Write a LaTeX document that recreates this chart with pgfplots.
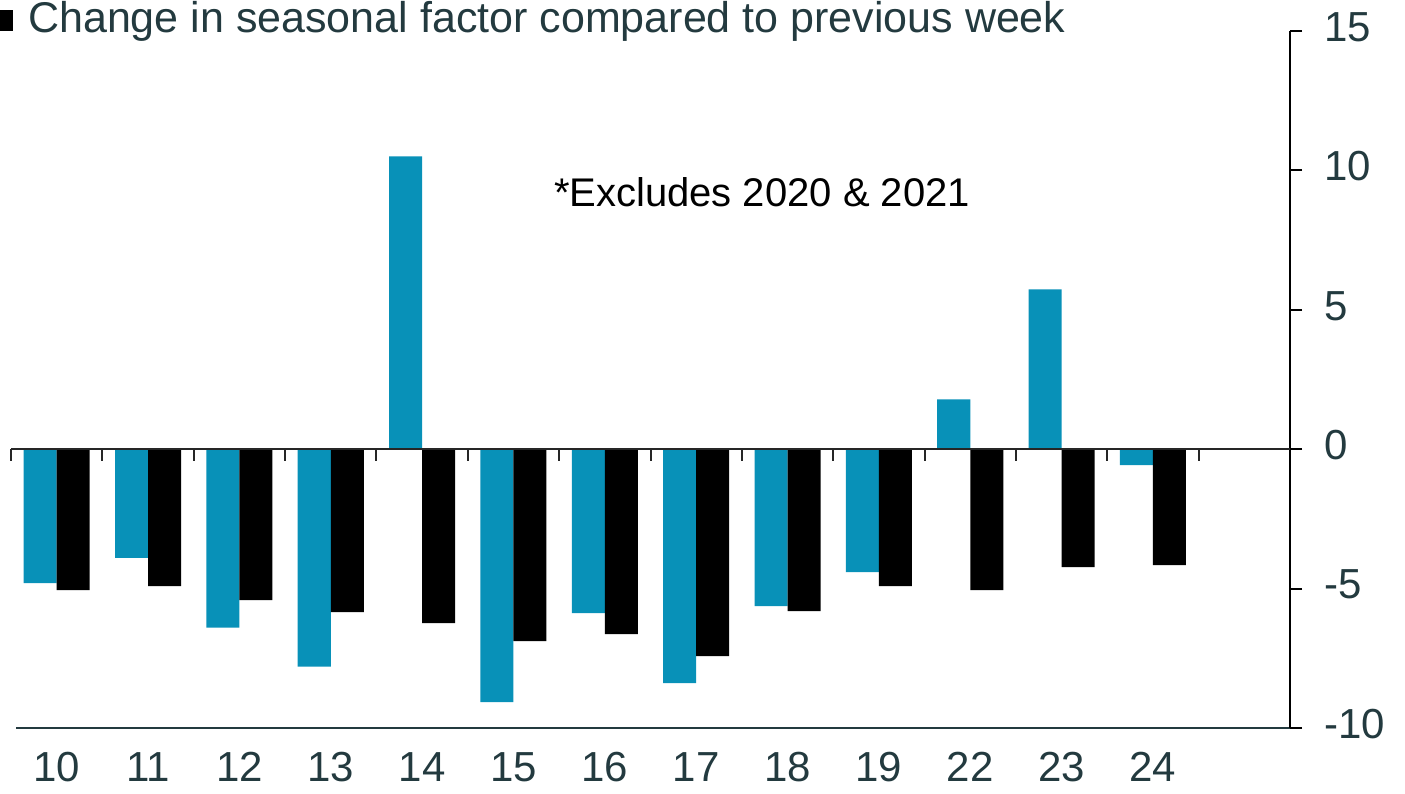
\documentclass[border=0pt]{standalone}
\usepackage{pgfplots}
\pgfplotsset{compat=1.18}
\usepackage{fontspec}
\setmainfont{Liberation Sans}
\definecolor{bluebar}{HTML}{0891B8}
\definecolor{txt}{HTML}{233A3F}
\begin{document}
\begin{tikzpicture}[x=1pt,y=1pt]
\useasboundingbox (0pt,0pt) rectangle (1405pt,-793pt);
\fill[black] (0pt,-10pt) rectangle (13pt,-31pt);
\node[anchor=base west, inner sep=0, text=txt, font=\fontsize{43}{52}\selectfont] at (28pt,-32pt) {Change in seasonal factor compared to previous week};
\node[anchor=center, inner sep=0, text=black, font=\fontsize{40}{48}\selectfont] at (762pt,-192pt) {*Excludes 2020 \& 2021};
\begin{axis}[
 at={(11pt,-728pt)}, anchor=south west,
 scale only axis, width=1279pt, height=697pt,
 xmin=-0.5, xmax=13.5, ymin=-10, ymax=15,
 ybar=0pt, bar width=33pt,
 clip=false,
 axis x line*=bottom, axis y line*=right,
 axis line style={-},
 x axis line style={draw=txt, line width=2pt, shorten <=5pt},
 y axis line style={draw=black, line width=2pt},
 xtick={0,...,12}, xticklabels={10,11,12,13,14,15,16,17,18,19,22,23,24},
 x tick style={draw=none},
 ytick={-10,-5,0,5,10,15}, yticklabels={-10,-5,0,5,10,15},
 y tick style={draw=black, line width=2pt},
 tick align=outside, major tick length=12pt,
 ticklabel style={font=\fontsize{42}{50}\selectfont, text=txt},
 yticklabel style={anchor=west, inner sep=0pt, xshift=22pt, yshift=4pt},
 xticklabel style={anchor=north, inner sep=0pt, yshift=-12pt},
]
\addplot[fill=bluebar, draw=none] coordinates {(0,-4.8) (1,-3.9) (2,-6.4) (3,-7.8) (4,10.5) (5,-9.07) (6,-5.88) (7,-8.39) (8,-5.63) (9,-4.41) (10,1.79) (11,5.73) (12,-0.57)};
\addplot[fill=black, draw=none] coordinates {(0,-5.05) (1,-4.91) (2,-5.41) (3,-5.84) (4,-6.24) (5,-6.88) (6,-6.63) (7,-7.42) (8,-5.81) (9,-4.91) (10,-5.05) (11,-4.23) (12,-4.16)};
\draw[line width=2pt, color=black!85] (axis cs:-0.5,0) -- (axis cs:13.5,0);
\pgfplotsinvokeforeach{-0.5,0.5,...,12.5}{\draw[line width=2pt, color=black!85] (axis cs:#1,0) -- ++(0pt,-12pt);}
\end{axis}
\end{tikzpicture}
\end{document}
